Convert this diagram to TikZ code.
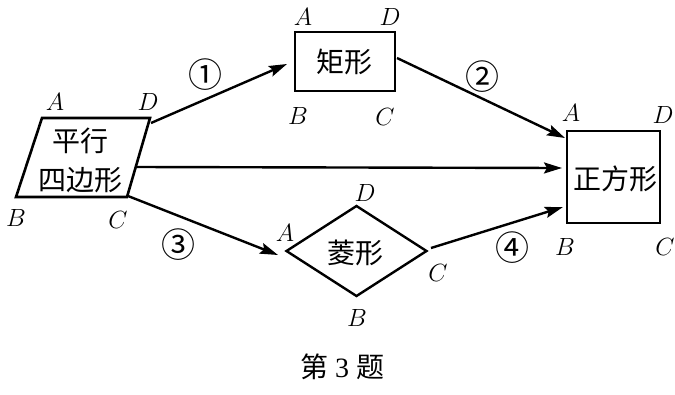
\documentclass[tikz,border=0pt]{standalone}
\usepackage{fontspec}
\setmainfont{Liberation Serif}
\newfontfamily\cjk{Noto Sans CJK SC}
\usetikzlibrary{arrows.meta,shapes.geometric}
\begin{document}
\begin{tikzpicture}[x=1pt,y=-1pt,
  box/.style={draw,line width=2.6pt,inner sep=0pt},
  cjktext/.style={font=\cjk\fontsize{28}{39}\selectfont,align=center,inner sep=0pt},
  vlabel/.style={font=\fontsize{25}{25}\selectfont,inner sep=0pt,execute at begin node=$,execute at end node=$},
  numlabel/.style={font=\cjk\fontsize{34}{34}\selectfont,inner sep=0pt},
  conn/.style={line width=2.4pt,-{Stealth[length=18pt,width=11pt,inset=3pt]}}]
\useasboundingbox (0,0) rectangle (675,394);
% parallelogram
\coordinate (pA) at (42,118);
\coordinate (pD) at (150,118);
\coordinate (pC) at (127,197);
\coordinate (pB) at (16,197);
\draw[line width=2.6pt,line join=miter] (pA) -- (pD) -- (pC) -- (pB) -- cycle;
\node[cjktext] (para) at (80,160) {平行\\四边形};
\coordinate (s1) at (151,123);
\coordinate (s2) at (136,167);
\coordinate (s3) at (128,196);
% rectangle
\node[box,minimum width=100pt,minimum height=59pt] (rect) at (345,61.5) {};
\node[cjktext] (recttext) at (344,62) {矩形};
% square
\node[box,minimum width=93pt,minimum height=92pt] (sq) at (613.5,177) {};
\node[cjktext] (sqtext) at (615,179) {正方形};
% rhombus
\node[draw,line width=2.4pt,diamond,minimum width=141pt,minimum height=91pt,inner sep=0pt] (rh) at (356.5,251) {};
\node[cjktext] (rhtext) at (355,253) {菱形};
% end points
\coordinate (e1) at (287,64);
\coordinate (s4) at (397,58);
\coordinate (e2) at (565,138);
\coordinate (e3) at (562,168);
\coordinate (e5) at (278,255);
\coordinate (s6) at (431,248);
\coordinate (e6) at (563,207);
% connectors
\draw[conn] (s1) -- (e1);
\draw[conn] (s4) -- (e2);
\draw[conn] (s2) -- (e3);
\draw[conn] (s3) -- (e5);
\draw[conn] (s6) -- (e6);
% number labels
\node[numlabel] (n1) at (205,75) {①};
\node[numlabel] (n2) at (482,77) {②};
\node[numlabel] (n3) at (178,245) {③};
\node[numlabel] (n4) at (512,248) {④};
% vertex labels
\node[vlabel] (lpA) at (55,102) {A};
\node[vlabel] (lpD) at (148,102) {D};
\node[vlabel] (lpB) at (16,218) {B};
\node[vlabel] (lpC) at (118,220) {C};
\node[vlabel] (lrA) at (303,17) {A};
\node[vlabel] (lrD) at (390,17) {D};
\node[vlabel] (lrB) at (298,116) {B};
\node[vlabel] (lrC) at (385,117) {C};
\node[vlabel] (lsA) at (571,113) {A};
\node[vlabel] (lsD) at (663,115) {D};
\node[vlabel] (lsB) at (565,247) {B};
\node[vlabel] (lsC) at (665,247) {C};
\node[vlabel] (lhD) at (365,193) {D};
\node[vlabel] (lhA) at (285,233) {A};
\node[vlabel] (lhC) at (438,273) {C};
\node[vlabel] (lhB) at (357,318) {B};
% caption
\node[font=\fontsize{28}{28}\selectfont,inner sep=0pt] (cap) at (342,367) {{\cjk 第} 3 {\cjk 题}};
\end{tikzpicture}
\end{document}
